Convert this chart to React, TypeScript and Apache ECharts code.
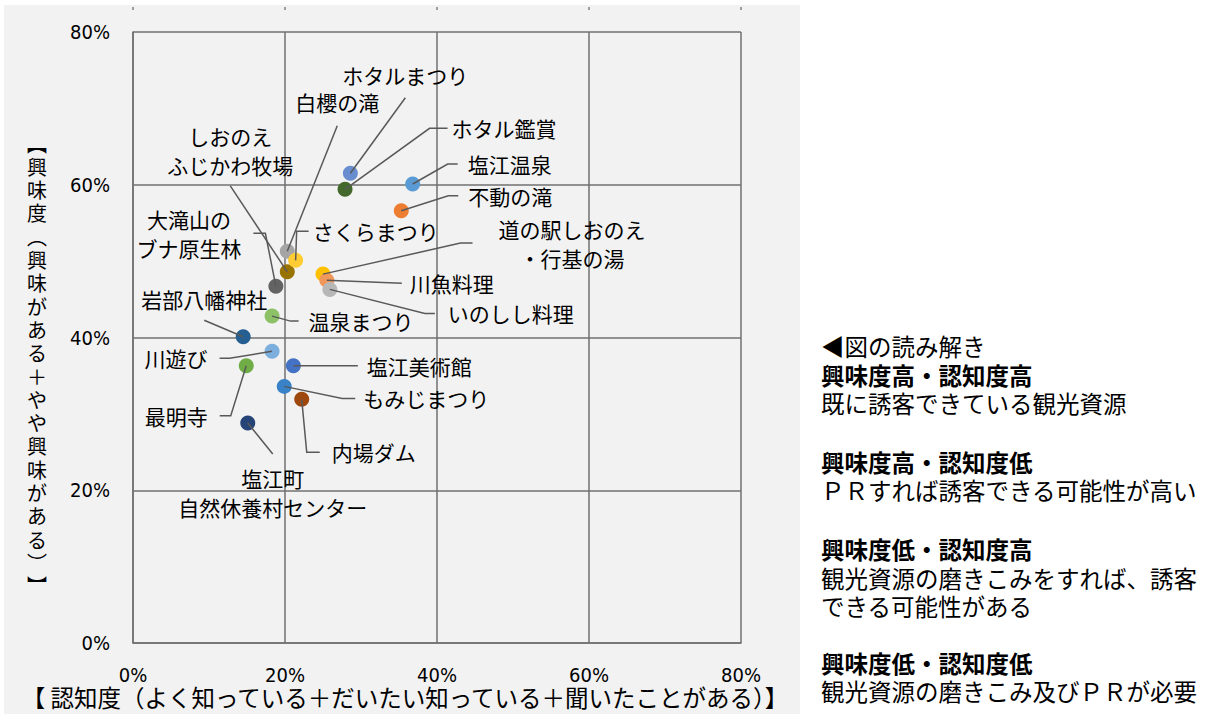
import React, { useEffect, useRef } from "react";
import * as echarts from "echarts";

// 観光資源ごとの認知度（x）と興味度（y）
const resources = [
  "塩江温泉", "不動の滝", "白櫻の滝", "道の駅しおのえ\n・行基の湯", "塩江美術館",
  "最明寺", "岩部八幡神社", "内場ダム", "大滝山の\nブナ原生林", "しおのえ\nふじかわ牧場",
  "塩江町\n自然休養村センター", "ホタル鑑賞", "川遊び", "川魚料理", "いのしし料理",
  "さくらまつり", "ホタルまつり", "温泉まつり", "もみじまつり",
];
const awareness = [
  0.368, 0.353, 0.203, 0.250, 0.211,
  0.149, 0.145, 0.222, 0.188, 0.203,
  0.151, 0.279, 0.183, 0.255, 0.259,
  0.214, 0.286, 0.183, 0.199,
];
const interest = [
  0.601, 0.566, 0.513, 0.483, 0.363,
  0.363, 0.401, 0.319, 0.467, 0.486,
  0.288, 0.594, 0.382, 0.475, 0.463,
  0.501, 0.615, 0.428, 0.336,
];
const pointColors = [
  "#5B9BD5", "#ED7D31", "#A5A5A5", "#FFC000", "#4472C4",
  "#70AD47", "#255E91", "#9E480E", "#636363", "#997300",
  "#264478", "#43682B", "#7CAFDD", "#F1975A", "#B7B7B7",
  "#FFCD33", "#698ED0", "#8CC168", "#3A82C8",
];

const xTitle = "【 認知度（よく知っている＋だいたい知っている＋聞いたことがある）】";
// 縦書きの軸タイトル（括弧は縦書き用の字形）
const yTitleChars = ["︻", "興", "味", "度", "︵", "興", "味", "が", "あ", "る", "＋", "や", "や", "興", "味", "が", "あ", "る", "︶", "︼"];

const guideLines = [
  { text: "◀図の読み解き", bold: false },
  { text: "興味度高・認知度高", bold: true },
  { text: "既に誘客できている観光資源", bold: false },
  { text: "興味度高・認知度低", bold: true },
  { text: "ＰＲすれば誘客できる可能性が高い", bold: false },
  { text: "興味度低・認知度高", bold: true },
  { text: "観光資源の磨きこみをすれば、誘客", bold: false },
  { text: "できる可能性がある", bold: false },
  { text: "興味度低・認知度低", bold: true },
  { text: "観光資源の磨きこみ及びＰＲが必要", bold: false },
];
const guideRows = [346, 375, 403, 462, 490, 549, 578, 606, 663, 691];

// ラベルの配置（点からのずれ・引き出し線をつなぐ辺・折れ線の長さ・余白）
type Side = "l" | "r" | "t" | "b";
const labelPlacement: { dx: number; dy: number; side: Side; elbow: number; gap: number }[] = [
  { dx: 97, dy: -20, side: "l", elbow: 10, gap: 10 },
  { dx: 109, dy: -15, side: "l", elbow: 10, gap: 10 },
  { dx: 50, dy: -149, side: "b", elbow: 0, gap: 9 },
  { dx: 249, dy: -31, side: "l", elbow: 12, gap: 26 },
  { dx: 126, dy: 0, side: "l", elbow: 0, gap: 9 },
  { dx: -70, dy: 50, side: "r", elbow: 11, gap: 12 },
  { dx: -39, dy: -38, side: "b", elbow: 0, gap: 7 },
  { dx: 72, dy: 53, side: "l", elbow: 13, gap: 12 },
  { dx: -87, dy: -53, side: "r", elbow: 12, gap: 12 },
  { dx: -57, dy: -121, side: "b", elbow: 0, gap: 6 },
  { dx: 25, dy: 69, side: "t", elbow: 0, gap: 9 },
  { dx: 159, dy: -61, side: "l", elbow: 18, gap: 4 },
  { dx: -96, dy: 7, side: "r", elbow: 10, gap: 12 },
  { dx: 125, dy: 3, side: "l", elbow: 0, gap: 8 },
  { dx: 181, dy: 24, side: "l", elbow: 10, gap: 13 },
  { dx: 80, dy: -29, side: "l", elbow: 12, gap: 4 },
  { dx: 55, dy: -98, side: "b", elbow: 0, gap: 8 },
  { dx: 89, dy: 5, side: "l", elbow: 8, gap: 10 },
  { dx: 142, dy: 12, side: "l", elbow: 13, gap: 8 },
];

const JP = "'Noto Sans CJK JP', 'Noto Sans', sans-serif";
const NUM = "'Liberation Sans Narrow', 'DejaVu Sans Condensed', 'Noto Sans', sans-serif";
const LABEL_FS = 21;
const LABEL_LH = 29;

export default function App() {
  const ref = useRef<HTMLDivElement>(null);

  useEffect(() => {
    if (!ref.current) return;
    const chart = echarts.init(ref.current, undefined, { renderer: "svg" });

    const points = awareness.map((x, i) => [x, interest[i]]);
    const pct = (v: number) => `${Math.round(v * 100)}%`;

    chart.setOption({
      animation: false,
      backgroundColor: "#ffffff",
      grid: { left: 133, top: 32, width: 608, height: 611 },
      xAxis: [
        {
          type: "value",
          min: 0,
          max: 0.8,
          interval: 0.2,
          axisLine: { show: true, lineStyle: { color: "#707070", width: 1.5 } },
          axisTick: { show: false },
          splitLine: { show: true, lineStyle: { color: "#707070", width: 1.5 } },
          axisLabel: { formatter: pct, fontFamily: NUM, fontSize: 20, lineHeight: 20, color: "#000", margin: 22 },
        },
        {
          type: "value",
          position: "top",
          offset: 22,
          min: 0,
          max: 0.8,
          interval: 0.2,
          axisLine: { show: false },
          axisTick: { show: true, length: 3, lineStyle: { color: "#808080", width: 1.5 } },
          axisLabel: { show: false },
          splitLine: { show: false },
        },
      ],
      yAxis: {
        type: "value",
        min: 0,
        max: 0.8,
        interval: 0.2,
        axisLine: { show: true, lineStyle: { color: "#707070", width: 1.5 } },
        axisTick: { show: false },
        splitLine: { show: true, lineStyle: { color: "#707070", width: 1.5 } },
        axisLabel: { formatter: pct, fontFamily: NUM, fontSize: 20, color: "#000", margin: 23 },
      },
      graphic: [
        {
          type: "rect",
          z: -100,
          shape: { x: 4, y: 5, width: 796, height: 709 },
          style: { fill: "#f2f2f2" },
          silent: true,
        },
        {
          type: "text",
          x: 405,
          y: 697,
          style: {
            text: xTitle,
            font: `23.5px ${JP}`,
            lineHeight: 24,
            fill: "#000",
            align: "center",
            verticalAlign: "middle",
          },
        },
        ...yTitleChars.map((c, i) => ({
          type: "text",
          x: 37,
          y: 143 + i * 23.3,
          style: {
            text: c,
            font: `20px ${JP}`,
            lineHeight: 22,
            fill: "#000",
            align: "center",
            verticalAlign: "middle",
          },
        })),
        ...guideLines.map((g, i) => ({
          type: "text",
          x: 821,
          y: guideRows[i],
          style: {
            text: g.text,
            font: `${g.bold ? "bold " : ""}23.5px ${JP}`,
            fill: "#000",
            align: "left",
            verticalAlign: "middle",
          },
        })),
      ],
      series: [
        {
          type: "scatter",
          symbolSize: 15,
          z: 2,
          data: points.map((p, i) => ({ value: p, itemStyle: { color: pointColors[i], opacity: 1 } })),
        },
        {
          type: "custom",
          z: 3,
          data: points,
          renderItem: (params: any, api: any) => {
            const i = params.dataIndex;
            const p = api.coord([api.value(0), api.value(1)]);
            const pl = labelPlacement[i];
            const lines = resources[i].split("\n");
            const w = Math.max(...lines.map((l) => l.length)) * LABEL_FS;
            const h = lines.length * LABEL_LH;
            const cx = p[0] + pl.dx;
            const cy = p[1] + pl.dy;
            let ax = cx;
            let ay = cy;
            let ex = cx;
            let ey = cy;
            if (pl.side === "l") {
              ax = cx - w / 2 - pl.gap;
              ex = ax - pl.elbow;
            } else if (pl.side === "r") {
              ax = cx + w / 2 + pl.gap;
              ex = ax + pl.elbow;
            } else if (pl.side === "t") {
              ay = cy - h / 2 - pl.gap;
              ey = ay - pl.elbow;
            } else {
              ay = cy + h / 2 + pl.gap;
              ey = ay + pl.elbow;
            }
            if (pl.side === "t" || pl.side === "b") {
              ex = ax;
            } else {
              ey = ay;
            }
            return {
              type: "group",
              children: [
                {
                  type: "polyline",
                  shape: { points: [[ax, ay], [ex, ey], [p[0], p[1]]] },
                  style: { stroke: "#595959", lineWidth: 1.5, fill: null },
                },
                {
                  type: "text",
                  x: cx,
                  y: cy,
                  style: {
                    text: resources[i],
                    font: `${LABEL_FS}px ${JP}`,
                    lineHeight: LABEL_LH,
                    fill: "#000",
                    align: "center",
                    verticalAlign: "middle",
                  },
                },
              ],
            };
          },
        },
      ],
    });

    return () => chart.dispose();
  }, []);

  return (
    <div
      ref={ref}
      style={{ position: "absolute", left: 0, top: 0, width: 1215, height: 714 }}
    />
  );
}
